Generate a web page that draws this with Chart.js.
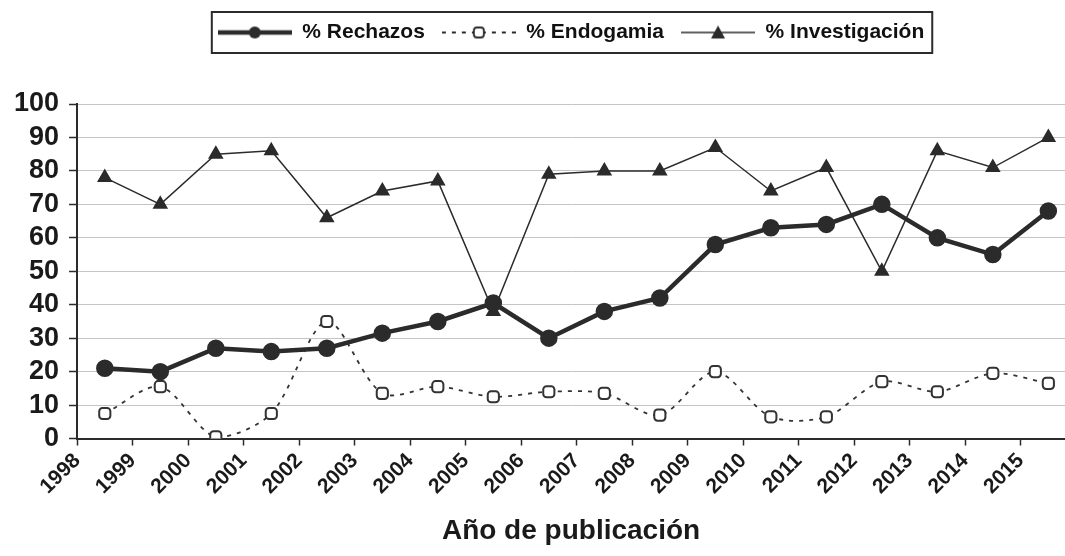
<!DOCTYPE html>
<html>
<head>
<meta charset="utf-8">
<script src="https://cdn.jsdelivr.net/npm/chart.js@4.4.0/dist/chart.umd.min.js"></script>
<style>
  html, body { margin: 0; padding: 0; background: #fff; overflow: hidden; }
</style>
</head>
<body>
<canvas id="chart" width="1065" height="556"></canvas>
<script>
// Data
const years = ['1998', '1999', '2000', '2001', '2002', '2003', '2004', '2005', '2006',
  '2007', '2008', '2009', '2010', '2011', '2012', '2013', '2014', '2015'];
const rechazos = [21, 20, 27, 26, 27, 31.5, 35, 40.5, 30, 38, 42, 58, 63, 64, 70, 60, 55, 68];
const endogamia = [7.5, 15.5, 0.5, 7.5, 35, 13.5, 15.5, 12.5, 14, 13.5, 7, 20, 6.5, 6.5, 17, 14, 19.5, 16.5];
const investigacion = [78, 70, 85, 86, 66, 74, 77, 38, 79, 80, 80, 87, 74, 81, 50, 86, 81, 90];
const yTicks = [0, 10, 20, 30, 40, 50, 60, 70, 80, 90, 100];

const ink = '#2b2b2b';
const font = 'Liberation Sans';

// points sit in the middle of each year slot, labels sit on the slot edge
const toPoints = arr => arr.map((v, i) => ({ x: i + 0.5, y: v }));

// legend samples: a bit of line with the marker in the middle
function sample(kind) {
  const c = document.createElement('canvas');
  c.width = 74; c.height = 20;
  const g = c.getContext('2d');
  g.strokeStyle = ink; g.fillStyle = ink;
  g.beginPath();
  if (kind === 'rech') { g.lineWidth = 4.5; }
  if (kind === 'endo') { g.lineWidth = 1.8; g.setLineDash([4, 6]); }
  if (kind === 'inv') { g.lineWidth = 1.5; }
  g.moveTo(0, 10); g.lineTo(74, 10); g.stroke();
  g.setLineDash([]);
  if (kind === 'rech') {
    g.beginPath(); g.arc(37, 10, 6, 0, Math.PI * 2); g.fill();
  }
  if (kind === 'endo') {
    g.fillStyle = '#fff'; g.lineWidth = 1.8;
    g.beginPath(); g.roundRect(32, 5, 10, 10, 3); g.fill(); g.stroke();
  }
  if (kind === 'inv') {
    g.beginPath(); g.moveTo(37, 3); g.lineTo(44, 16); g.lineTo(30, 16); g.closePath(); g.fill();
  }
  return c;
}

const legendFrame = {
  id: 'legendFrame',
  beforeInit(chart) {
    const fit = chart.legend.fit;
    chart.legend.fit = function () { fit.bind(chart.legend)(); this.height += 51; };
  },
  afterDraw(chart) {
    const boxes = chart.legend.legendHitBoxes;
    if (!boxes || !boxes.length) return;
    const left = Math.min(...boxes.map(b => b.left)) - 6;
    const right = Math.max(...boxes.map(b => b.left + b.width)) + 8;
    const top = boxes[0].top - 10;
    const bottom = boxes[0].top + boxes[0].height + 10;
    const ctx = chart.ctx;
    ctx.save();
    ctx.strokeStyle = ink;
    ctx.lineWidth = 2;
    ctx.strokeRect(left, top, right - left, bottom - top);
    ctx.restore();
  }
};

const data = {
  datasets: [{
    label: '% Rechazos',
    data: toPoints(rechazos),
    borderColor: ink,
    backgroundColor: ink,
    borderWidth: 4.5,
    pointStyle: 'circle',
    pointRadius: 6.5,
    legendSample: sample('rech')
  }, {
    label: '% Endogamia',
    data: toPoints(endogamia),
    borderColor: '#333',
    backgroundColor: '#fff',
    borderWidth: 1.8,
    borderDash: [4, 6],
    tension: 0.3,
    pointStyle: 'rectRounded',
    pointRadius: 6.5,
    pointBorderWidth: 2,
    legendSample: sample('endo')
  }, {
    label: '% Investigación',
    data: toPoints(investigacion),
    borderColor: ink,
    backgroundColor: ink,
    borderWidth: 1.5,
    pointStyle: 'triangle',
    pointRadius: 7.5,
    legendSample: sample('inv')
  }]
};

const config = {
  type: 'line',
  data: data,
  options: {
    responsive: false,
    animation: false,
    layout: { autoPadding: false, padding: { left: 4, right: 0, top: 5, bottom: 8 } },
    plugins: {
      tooltip: { enabled: false },
      legend: {
        position: 'top',
        fullSize: false,
        labels: {
          color: '#111',
          font: { family: font, size: 21, weight: 'bold' },
          usePointStyle: true,
          pointStyleWidth: 74,
          padding: 17,
          generateLabels(chart) {
            return chart.data.datasets.map((ds, i) => ({
              text: ds.label,
              pointStyle: ds.legendSample,
              datasetIndex: i,
              fontColor: '#111',
              lineWidth: 0,
              hidden: false
            }));
          }
        }
      }
    },
    scales: {
      x: {
        type: 'linear',
        min: 0,
        max: 17.8,
        border: { color: ink, width: 2 },
        grid: { drawOnChartArea: false, tickLength: 7, tickColor: ink, tickWidth: 1.5 },
        ticks: {
          stepSize: 1,
          includeBounds: false,
          autoSkip: false,
          minRotation: 45,
          maxRotation: 45,
          padding: 3,
          color: '#1a1a1a',
          font: { family: font, size: 21, weight: 'bold' },
          callback: v => years[v]
        },
        title: {
          display: true,
          text: 'Año de publicación',
          color: '#1a1a1a',
          font: { family: font, size: 28, weight: 'bold' },
          padding: { top: 12, bottom: 0 }
        }
      },
      y: {
        min: 0,
        max: 100,
        border: { color: ink, width: 2 },
        grid: { color: '#c4c4c4', lineWidth: 1, tickLength: 8, tickColor: ink, tickWidth: 1.5 },
        afterBuildTicks(axis) { axis.ticks = yTicks.map(v => ({ value: v })); },
        ticks: {
          autoSkip: false,
          padding: 10,
          color: '#1a1a1a',
          font: { family: font, size: 27, weight: 'bold' }
        }
      }
    }
  },
  plugins: [legendFrame]
};

var mainChart = new Chart(document.getElementById('chart'), config);
</script>
</body>
</html>
